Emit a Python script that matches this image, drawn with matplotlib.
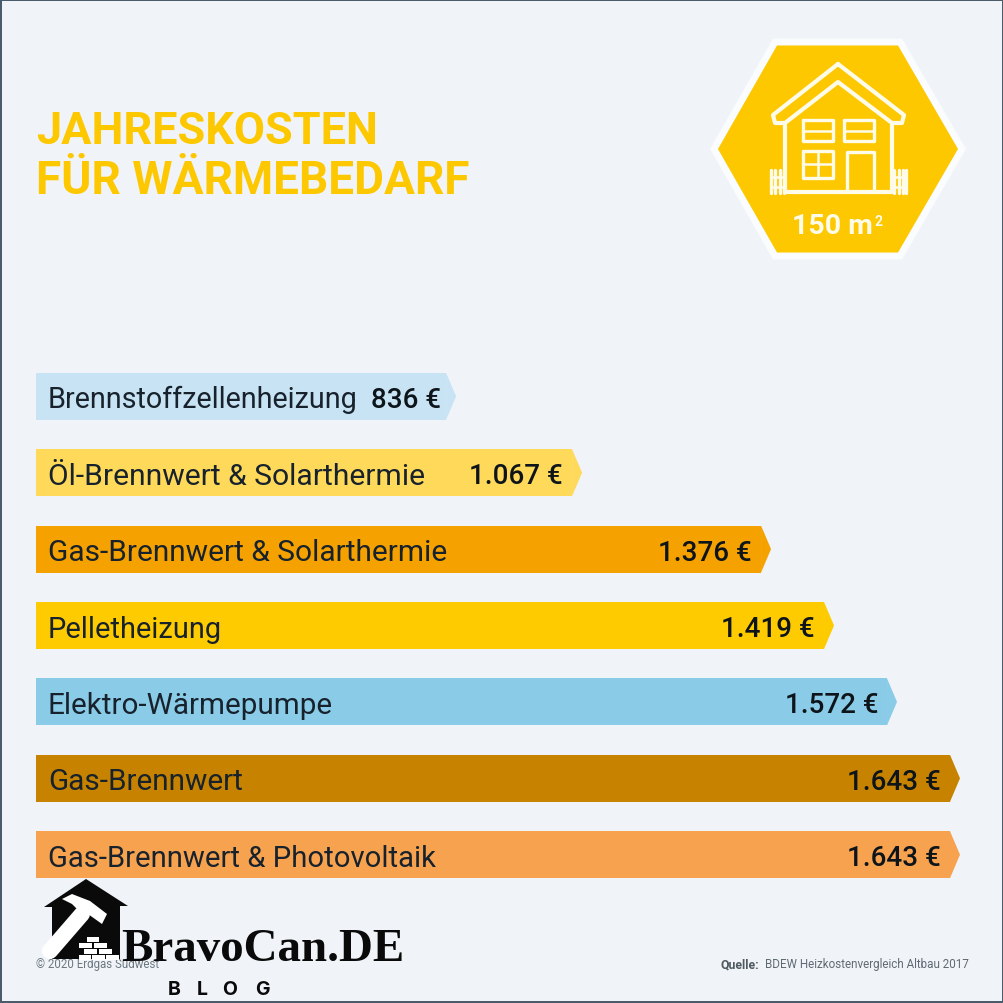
import matplotlib
matplotlib.use("Agg")
import matplotlib.pyplot as plt
from matplotlib.patches import Polygon, Rectangle

categories = ["Brennstoffzellenheizung", "Öl-Brennwert & Solarthermie", "Gas-Brennwert & Solarthermie",
              "Pelletheizung", "Elektro-Wärmepumpe", "Gas-Brennwert", "Gas-Brennwert & Photovoltaik"]
value_labels = ["836 €", "1.067 €", "1.376 €", "1.419 €", "1.572 €", "1.643 €", "1.643 €"]
# lengths as drawn in the picture (the graphic is not strictly to scale), in euro units
drawn_lengths = [747, 971, 1307, 1419, 1531, 1643, 1643]
bar_colors = ["#c8e3f3", "#ffd95a", "#f5a200", "#fecb00", "#8acce8", "#c78300", "#f7a24f"]
title_lines = ["JAHRESKOSTEN", "FÜR WÄRMEBEDARF"]
name_sizes = [20.7, 21.6, 21.5, 20.9, 21.3, 21.4, 21.1]

BG = "#f0f4f9"
DARK = "#17222c"
YEL = "#fdc800"
FONT = "Roboto"

fig = plt.figure(figsize=(10.04, 10.04), dpi=100, facecolor=BG)
ax = fig.add_axes([0, 0, 1, 1])
PX = 924 / 1643            # pixels per euro
ax.set_xlim(-36 / PX, 968 / PX)
y0, dy = 397.3, 76.4       # pixel centre of the first row, row spacing
ax.set_ylim((1004 - y0) / dy, -y0 / dy)
ax.axis("off")

tip = 10 / PX
half = 23.5 / dy
for i, (name, lab, length, col, fs) in enumerate(zip(categories, value_labels, drawn_lengths, bar_colors, name_sizes)):
    ax.barh(i, length - tip, height=2 * half, color=col, linewidth=0, zorder=2)
    ax.fill([length - tip, length, length - tip], [i - half, i, i + half], color=col, linewidth=0, zorder=2)
    ax.text(12 / PX, i + 0.04, name, fontsize=fs, family=FONT, color=DARK, va="center", ha="left", zorder=3)
    ax.text(length - (15 if i == 0 else 19) / PX, i + 0.04, lab, fontsize=20, family=FONT, weight="medium",
            color="#0d141a", va="center", ha="right", zorder=3)

# overlay in pixel coordinates for the decoration
ov = fig.add_axes([0, 0, 1, 1], facecolor="none")
ov.set_xlim(0, 1004)
ov.set_ylim(1004, 0)
ov.axis("off")

for s in [(0, 0, 1004, 2), (0, 1002, 1004, 2), (0, 0, 2.5, 1004), (1002, 0, 2, 1004)]:
    ov.add_patch(Rectangle((s[0], s[1]), s[2], s[3], color="#4a5b6b", lw=0))

for k, (line, fs) in enumerate(zip(title_lines, [32.5, 33.1])):
    ov.text(36, 144 + k * 50, line, fontsize=fs, family=FONT, weight="bold", color=YEL, va="baseline", ha="left")

# hexagon badge
hexagon = [(775, 43), (900, 43), (962, 150), (900, 257), (775, 257), (714, 150)]
ov.add_patch(Polygon(hexagon, closed=True, facecolor=YEL, edgecolor="#fafcfd", lw=5, joinstyle="miter", zorder=1))
W = "#fffbe9"
lw = 3.0
def pl(xs, ys, w=lw, **kw):
    ov.plot(xs, ys, color=W, lw=w, solid_capstyle="round", solid_joinstyle="round", zorder=2, **kw)
pl([838, 773, 775, 785, 838, 892, 902, 904, 838], [65, 116, 124, 124, 83, 124, 124, 116, 65])
pl([785, 785, 892, 892], [126, 193, 193, 126])
for x0, x1 in [(803, 833), (844, 874)]:
    pl([x0, x1, x1, x0, x0], [121, 121, 142, 142, 121], w=2.4)
    pl([x0, x1], [131.5, 131.5], w=1.8)
pl([803, 833, 833, 803, 803], [152, 152, 179, 179, 152], w=2.4)
pl([818, 818], [152, 179], w=1.8)
pl([803, 833], [165, 165], w=1.8)
pl([847, 847, 874, 874], [193, 153, 153, 193], w=2.4)
for xs in [(771, 775, 780, 784), (894, 899, 903, 906)]:
    for x in xs:
        pl([x, x], [171, 194], w=2.4)
    pl([xs[0], xs[-1]], [178, 178], w=1.8)
    pl([xs[0], xs[-1]], [188, 188], w=1.8)
ov.text(792, 234, "150 m", fontsize=20.5, family=FONT, weight="bold", color=W, va="baseline", ha="left", zorder=3)
ov.text(875, 226, "2", fontsize=10, family=FONT, weight="bold", color=W, va="baseline", ha="left", zorder=3)

# footer
ov.text(36, 965, "© 2020 Erdgas Südwest", fontsize=8.3, family=FONT, color="#6d7780", va="center", ha="left", zorder=1)
ov.text(969, 965, "BDEW Heizkostenvergleich Altbau 2017", fontsize=8.4, family=FONT, color="#5f6972", va="center", ha="right")
ov.text(759, 965, "Quelle:", fontsize=8.8, family=FONT, weight="bold", color="#4f5962", va="center", ha="right")

# watermark logo
K = "#0a0a0a"
ov.add_patch(Polygon([(86, 880), (128, 907), (120, 907), (120, 960), (52, 960), (52, 908), (44, 908)],
                     closed=True, color=K, lw=0, zorder=4))
ov.plot([50, 82], [952, 915], color="white", lw=11.5, solid_capstyle="round", zorder=5)
ov.add_patch(Polygon([(62, 900), (72, 895), (90, 902), (107, 915), (102, 925), (95, 920), (88, 915), (80, 913), (72, 905)],
                     closed=True, color="white", lw=0, zorder=5))
for (bx, by, bw) in [(87, 938, 12), (79, 944, 13), (94, 944, 13), (84, 950, 13), (99, 950, 13), (79, 956, 12), (92, 956, 13), (106, 956, 13)]:
    ov.add_patch(Rectangle((bx, by), bw, 4.6, color="white", lw=0, zorder=5))
ov.text(121, 961, "BravoCan.DE", fontsize=33.8, family="Liberation Serif", weight="bold", color=K, va="baseline", ha="left", zorder=6)
for x, ch in zip([174, 202, 230, 262], "BLOG"):
    ov.text(x, 990, ch, fontsize=14, family="Inter", weight="bold", color=K, va="center", ha="center", zorder=6)

fig.savefig("out.png", dpi=100, facecolor=BG)
